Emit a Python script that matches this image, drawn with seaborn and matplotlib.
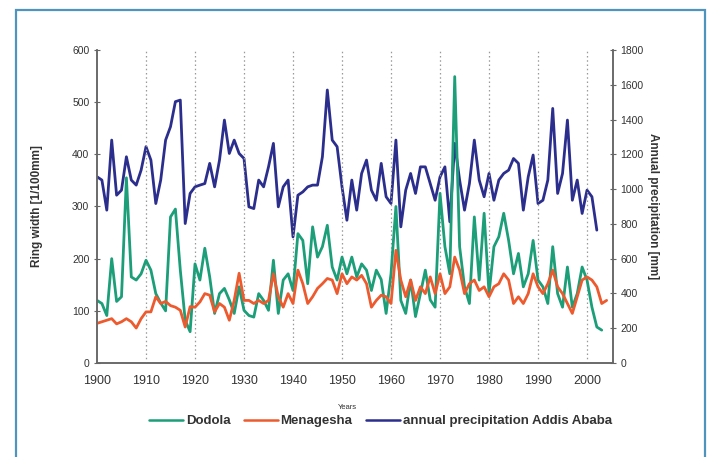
import numpy as np
import pandas as pd
import matplotlib
matplotlib.use("Agg")
import matplotlib.pyplot as plt
import seaborn as sns
from matplotlib.patches import Rectangle
from matplotlib.lines import Line2D

# ---------------- data ----------------
years_precip = list(range(1900, 2003))
precip = [1071, 1052, 879, 1282, 965, 994, 1186, 1052, 1023, 1109,
          1244, 1167, 917, 1052, 1282, 1359, 1503, 1512, 802, 975,
          1013, 1023, 1032, 1148, 1013, 1167, 1397, 1205, 1282, 1205,
          1176, 898, 888, 1052, 1013, 1128, 1263, 898, 1013, 1052,
          725, 965, 984, 1013, 1023, 1023, 1186, 1570, 1282, 1244,
          1013, 821, 1052, 879, 1090, 1167, 994, 936, 1148, 956,
          917, 1282, 783, 994, 1090, 975, 1128, 1128, 1032, 936,
          1070, 1128, 812, 1263, 1052, 879, 1032, 1282, 1052, 956,
          1090, 936, 1052, 1090, 1109, 1176, 1148, 879, 1071, 1196,
          917, 936, 1052, 1464, 975, 1090, 1397, 936, 1052, 860,
          994, 956, 764]

years_dodola = list(range(1900, 2004))
dodola = [120, 114, 91, 200, 118, 127, 355, 165, 159, 171,
          197, 178, 133, 115, 100, 280, 295, 178, 82, 60,
          190, 159, 220, 165, 95, 133, 143, 121, 95, 146,
          101, 91, 88, 133, 120, 101, 197, 95, 159, 171,
          139, 248, 235, 152, 261, 203, 223, 264, 184, 159,
          203, 171, 203, 165, 190, 178, 139, 178, 160, 95,
          171, 300, 120, 95, 159, 89, 133, 178, 121, 107,
          325, 223, 171, 549, 223, 146, 114, 280, 159, 287,
          133, 223, 242, 287, 235, 171, 210, 146, 171, 235,
          159, 146, 114, 223, 133, 107, 184, 107, 133, 184,
          159, 107, 69, 63]

years_menagesha = list(range(1900, 2005))
menagesha = [76, 79, 82, 85, 75, 79, 85, 79, 67, 85,
             98, 98, 127, 114, 118, 110, 107, 101, 69, 108,
             107, 117, 133, 130, 98, 114, 107, 82, 120, 172,
             120, 120, 114, 120, 114, 120, 171, 127, 107, 133,
             114, 178, 152, 114, 127, 143, 152, 162, 159, 133,
             171, 152, 165, 159, 168, 152, 107, 120, 130, 127,
             114, 216, 159, 127, 159, 120, 146, 133, 165, 133,
             171, 133, 146, 203, 178, 133, 152, 159, 139, 146,
             127, 146, 152, 171, 159, 114, 127, 114, 133, 171,
             146, 133, 152, 178, 146, 133, 114, 95, 127, 159,
             165, 159, 146, 114, 120]

xticks = list(range(1900, 2001, 10))
left_ticks = [0, 100, 200, 300, 400, 500, 600]
right_ticks = list(range(0, 1801, 200))

C_GREEN = "#1c9e78"
C_RED = "#ec5a2e"
C_BLUE = "#2b2e8c"

df_d = pd.DataFrame({"year": years_dodola, "val": dodola})
df_m = pd.DataFrame({"year": years_menagesha, "val": menagesha})
df_p = pd.DataFrame({"year": years_precip, "val": precip})

sns.set_style("white")
plt.rcParams["font.family"] = ["Liberation Sans", "DejaVu Sans"]

fig = plt.figure(figsize=(7.23, 4.57), dpi=100)
ax = fig.add_axes([97/723, 1-363/457, (613-97)/723, (363-50)/457])
ax2 = ax.twinx()

# vertical dotted grid at decades
for x in xticks[1:]:
    ax.axvline(x, color="#999999", lw=0.9, ls=(0, (1.2, 2.2)), zorder=0)

sns.lineplot(data=df_p, x="year", y="val", ax=ax2, color=C_BLUE, lw=2.0, legend=False)
sns.lineplot(data=df_d, x="year", y="val", ax=ax, color=C_GREEN, lw=2.0, legend=False)
sns.lineplot(data=df_m, x="year", y="val", ax=ax, color=C_RED, lw=2.0, legend=False)

ax.set_zorder(ax2.get_zorder() + 1)
ax.patch.set_visible(False)

ax.set_xlim(1900, 2005.3)
ax.set_ylim(0, 600)
ax2.set_ylim(0, 1800)
ax.set_xticks(xticks)
ax.set_yticks(left_ticks)
ax2.set_yticks(right_ticks)

for a in (ax, ax2):
    for s in a.spines.values():
        s.set_color("#666666")
        s.set_linewidth(1.1)
    a.spines["top"].set_visible(False)

ax.tick_params(axis="both", direction="inout", length=5, width=0.8, color="#666666",
               labelsize=7.5, labelcolor="#333333", pad=3)
ax.tick_params(axis="x", labelsize=9, pad=6)
ax2.tick_params(axis="y", direction="inout", length=5, width=0.8, color="#666666",
                labelsize=7.5, labelcolor="#333333", right=True, pad=3)

ax.set_xlabel("Years", fontsize=5.5, color="#333333", labelpad=2)
ax.xaxis.set_label_coords(0.485, -0.13)
ax.set_ylabel("Ring width [1/100mm]", fontsize=8.5, fontweight="bold", color="#333333", labelpad=8)
ax2.set_ylabel("Annual precipitation [mm]", fontsize=8.5, fontweight="bold", color="#333333",
               rotation=270, labelpad=10)
ax2.yaxis.set_label_coords(1.09, 0.5)
ax.yaxis.set_label_coords(-0.105, 0.5)

handles = [Line2D([], [], color=C_GREEN, lw=1.8),
           Line2D([], [], color=C_RED, lw=1.8),
           Line2D([], [], color=C_BLUE, lw=1.8)]
labels = ["Dodola", "Menagesha", "annual precipitation Addis Ababa"]
leg = fig.legend(handles, labels, loc="center", bbox_to_anchor=(0.526, 1-421/457), ncol=3,
                 frameon=False, handlelength=2.6, handletextpad=0.2,
                 columnspacing=1.0, prop={"weight": "bold", "size": 9.5})
for t in leg.get_texts():
    t.set_color("#333333")

# outer frame
fig.patches.append(Rectangle((16/723, -0.05), (705-16)/723, 1.05-10/457,
                             transform=fig.transFigure, fill=False,
                             edgecolor="#4f93bf", lw=1.6))

fig.savefig("out.png", dpi=100)
